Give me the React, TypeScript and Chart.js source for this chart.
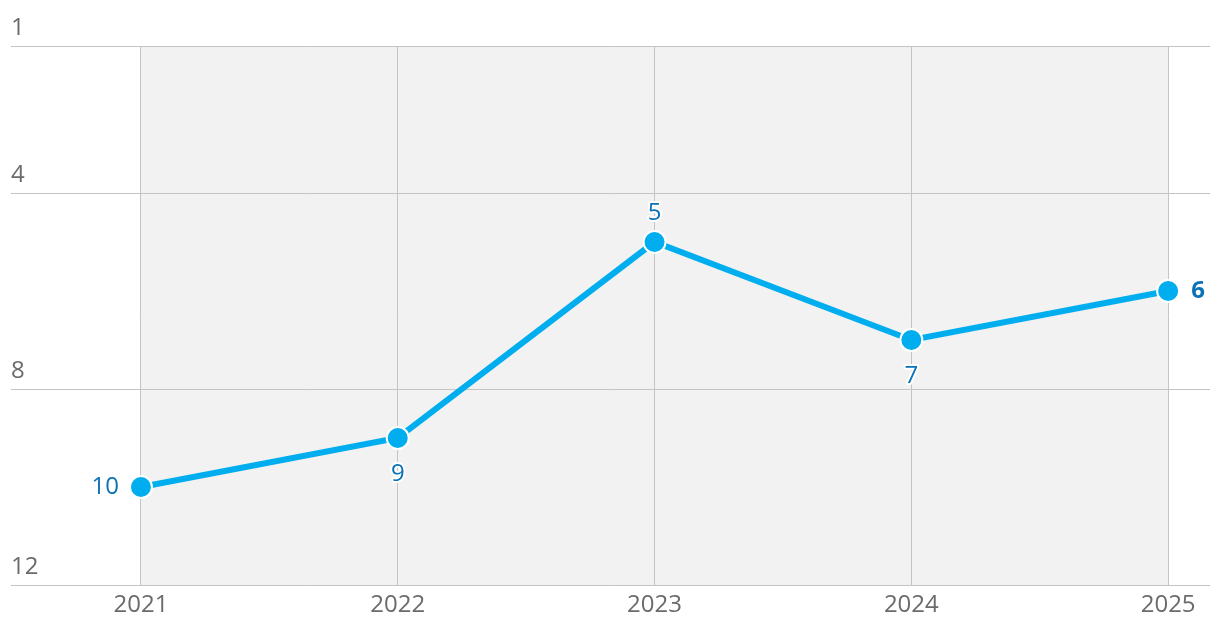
import React, { useEffect, useRef } from "react";
import { Chart, registerables } from "chart.js";

Chart.register(...registerables);

const years = [2021, 2022, 2023, 2024, 2025];
const ranks = [10, 9, 5, 7, 6];
const yTicks = [1, 4, 8, 12];
const labelPositions = ["left", "below", "above", "below", "right"];

const FONT = "'Open Sans', 'Noto Sans', sans-serif";

const bgPlugin = {
  id: "bgBand",
  beforeDraw(chart: any) {
    const { ctx, chartArea, scales } = chart;
    const x0 = scales.x.getPixelForValue(years[0]);
    const x1 = scales.x.getPixelForValue(years[years.length - 1]);
    ctx.save();
    ctx.fillStyle = "#f2f2f2";
    ctx.fillRect(x0, chartArea.top, x1 - x0, chartArea.bottom - chartArea.top);
    ctx.restore();
  },
};

const labelPlugin = {
  id: "pointLabels",
  afterDatasetsDraw(chart: any) {
    const { ctx } = chart;
    const meta = chart.getDatasetMeta(0);
    ctx.save();
    meta.data.forEach((pt: any, i: number) => {
      const pos = labelPositions[i];
      const last = i === ranks.length - 1;
      ctx.font = `${last ? "700 " : ""}24px ${FONT}`;
      ctx.textBaseline = "middle";
      let x = pt.x;
      let y = pt.y;
      if (pos === "left") {
        ctx.textAlign = "right";
        x -= 22;
      } else if (pos === "right") {
        ctx.textAlign = "left";
        x += 23;
      } else if (pos === "above") {
        ctx.textAlign = "center";
        y -= 29;
      } else {
        ctx.textAlign = "center";
        y += 36;
      }
      const txt = String(ranks[i]);
      ctx.lineJoin = "round";
      ctx.lineWidth = 4;
      ctx.strokeStyle = "#ffffff";
      ctx.strokeText(txt, x, y);
      ctx.fillStyle = "#0a72b6";
      ctx.fillText(txt, x, y);
    });
    ctx.restore();
  },
};

export default function App() {
  const ref = useRef<HTMLCanvasElement | null>(null);
  useEffect(() => {
    if (!ref.current) return;
    const chart = new Chart(ref.current, {
      type: "line",
      data: {
        datasets: [
          {
            data: years.map((y, i) => ({ x: y, y: ranks[i] })),
            borderColor: "#00aeef",
            borderWidth: 6,
            pointRadius: 11,
            pointBackgroundColor: "#00aeef",
            pointBorderColor: "#ffffff",
            pointBorderWidth: 2,
            tension: 0,
            clip: false,
          },
        ],
      },
      options: {
        animation: false,
        responsive: false,
        maintainAspectRatio: false,
        layout: { autoPadding: false, padding: { left: 11, right: 10, top: 46, bottom: 0 } },
        plugins: { legend: { display: false }, tooltip: { enabled: false } },
        scales: {
          x: {
            type: "linear",
            min: 2020.494,
            max: 2025.163,
            afterBuildTicks: (s: any) => {
              s.ticks = years.map((v) => ({ value: v }));
            },
            afterFit: (s: any) => {
              s.height = 49;
              s.paddingLeft = 0;
              s.paddingRight = 0;
            },
            grid: { color: "#c4c4c4", drawTicks: false },
            border: { display: false },
            ticks: {
              padding: 6,
              color: "#6b6b6b",
              font: { family: FONT, size: 24 },
              callback: (v: any) => String(v),
              maxRotation: 0,
              autoSkip: false,
            },
          },
          y: {
            reverse: true,
            min: 1,
            max: 12,
            afterBuildTicks: (s: any) => {
              s.ticks = yTicks.map((v) => ({ value: v }));
            },
            afterFit: (s: any) => {
              s.width = 0;
              s.paddingTop = 0;
              s.paddingBottom = 0;
            },
            grid: { color: "#c4c4c4", drawTicks: false },
            border: { display: false },
            ticks: {
              mirror: true,
              padding: 0,
              labelOffset: -18,
              color: "#6b6b6b",
              font: { family: FONT, size: 24 },
              callback: (v: any) => String(v),
            },
          },
        },
      },
      plugins: [bgPlugin, labelPlugin],
    });
    return () => chart.destroy();
  }, []);
  return (
    <div style={{ position: "absolute", left: 0, top: 0, width: 1220, height: 634 }}>
      <canvas ref={ref} width={1220} height={634} />
    </div>
  );
}
